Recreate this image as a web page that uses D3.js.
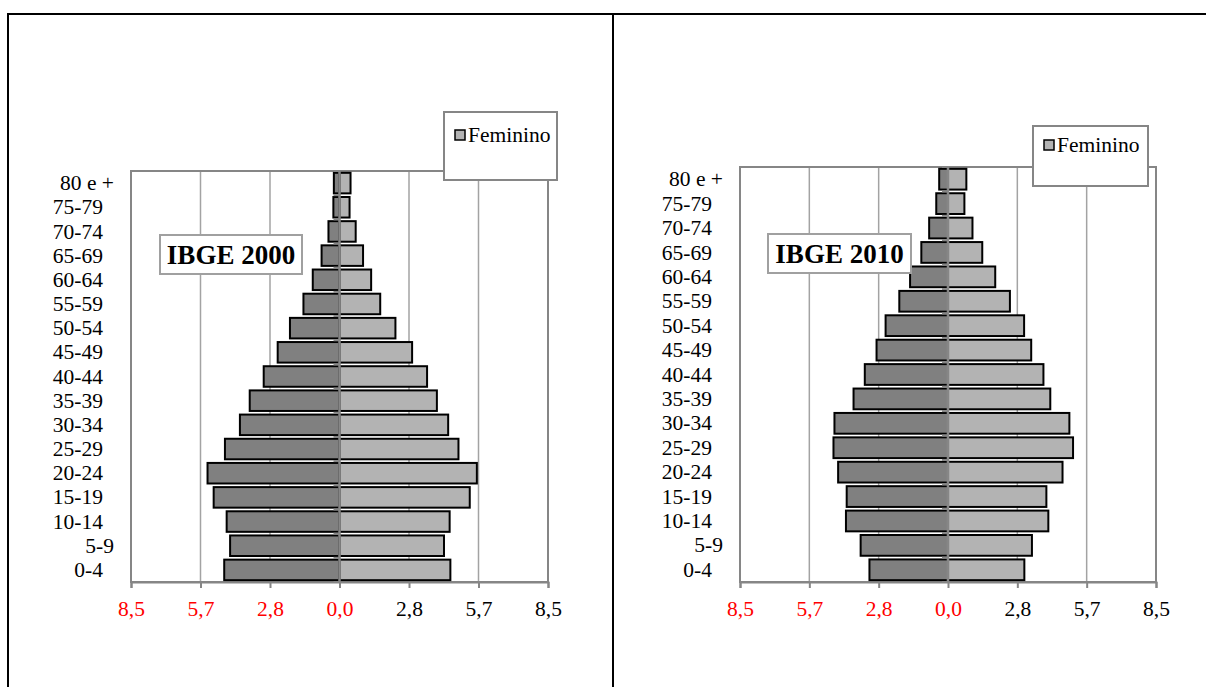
<!DOCTYPE html>
<html>
<head>
<meta charset="utf-8">
<script src="https://cdn.jsdelivr.net/npm/d3@7"></script>
<style>
  body { margin: 0; background: #fff; }
  text { font-family: "Times New Roman", "Liberation Serif", serif; }
</style>
</head>
<body>
<div id="chart"></div>
<script>
// age groups, bottom to top
var ages = ["0-4", "5-9", "10-14", "15-19", "20-24", "25-29", "30-34", "35-39",
            "40-44", "45-49", "50-54", "55-59", "60-64", "65-69", "70-74", "75-79", "80 e +"];

// IBGE 2000 (% of population)
var male2000   = [4.70, 4.46, 4.60, 5.13, 5.38, 4.67, 4.06, 3.66, 3.09, 2.52, 2.02, 1.47, 1.09, 0.73, 0.45, 0.25, 0.23];
var female2000 = [4.52, 4.26, 4.49, 5.31, 5.60, 4.85, 4.43, 3.97, 3.57, 2.96, 2.28, 1.66, 1.29, 0.96, 0.66, 0.41, 0.45];

// IBGE 2010
var male2010   = [3.21, 3.57, 4.17, 4.14, 4.49, 4.68, 4.64, 3.86, 3.40, 2.92, 2.55, 1.99, 1.55, 1.09, 0.77, 0.48, 0.36];
var female2010 = [3.12, 3.43, 4.10, 4.02, 4.68, 5.11, 4.96, 4.18, 3.90, 3.40, 3.11, 2.53, 1.93, 1.40, 1.00, 0.67, 0.75];

var xMax = 8.5;
var tickLabels = ["8,5", "5,7", "2,8", "0,0", "2,8", "5,7", "8,5"];
var legendLabel = "Feminino";

var w = 1206, h = 687;

var svg = d3.select("#chart").append("svg")
    .attr("width", w)
    .attr("height", h);

// table frame
svg.append("line").attr("x1", 8).attr("x2", w).attr("y1", 14).attr("y2", 14)
   .attr("stroke", "#000").attr("stroke-width", 2);
svg.append("line").attr("x1", 8).attr("x2", 8).attr("y1", 13).attr("y2", h)
   .attr("stroke", "#000").attr("stroke-width", 2);
svg.append("line").attr("x1", 613).attr("x2", 613).attr("y1", 13).attr("y2", h)
   .attr("stroke", "#000").attr("stroke-width", 2);

var panels = [
    { title: "IBGE 2000", male: male2000, female: female2000,
      plot: { left: 131, right: 548, top: 171, bottom: 582 },
      legend: { x: 444, y: 112, w: 113, h: 68, base: 142 },
      box: { x: 160, y: 235, w: 142, h: 39 } },
    { title: "IBGE 2010", male: male2010, female: female2010,
      plot: { left: 740, right: 1156, top: 167, bottom: 582 },
      legend: { x: 1033, y: 126, w: 115, h: 60, base: 152 },
      box: { x: 768, y: 234, w: 143, h: 39 } }
];

var borderGray = "#868686";
var gridGray = "#a3a3a3";
var fontSize = "21.5px";

panels.forEach(function(p) {
    var g = svg.append("g");

    var x = d3.scaleLinear()
        .domain([-xMax, xMax])
        .range([p.plot.left, p.plot.right]);

    var y = d3.scaleBand()
        .domain(ages)
        .range([p.plot.bottom, p.plot.top])
        .paddingInner(0.15)
        .paddingOuter(0.075);

    var ticks = d3.range(-3, 4).map(function(i) { return i * xMax / 3; });

    // vertical gridlines
    g.selectAll(".grid")
     .data(ticks.slice(1, -1))
     .enter()
     .append("line")
     .attr("x1", d => x(d)).attr("x2", d => x(d))
     .attr("y1", p.plot.top).attr("y2", p.plot.bottom)
     .attr("stroke", gridGray)
     .attr("stroke-width", 1.5);

    // plot border
    g.append("rect")
     .attr("x", p.plot.left).attr("y", p.plot.top)
     .attr("width", p.plot.right - p.plot.left)
     .attr("height", p.plot.bottom - p.plot.top)
     .attr("fill", "none")
     .attr("stroke", borderGray)
     .attr("stroke-width", 2);

    // bars
    var rows = ages.map(function(a, i) {
        return { age: a, male: p.male[i], female: p.female[i] };
    });

    g.selectAll(".male")
     .data(rows)
     .enter()
     .append("rect")
     .attr("x", d => x(-d.male))
     .attr("y", d => y(d.age))
     .attr("width", d => x(0) - x(-d.male))
     .attr("height", y.bandwidth())
     .attr("fill", "#808080")
     .attr("stroke", "#000")
     .attr("stroke-width", 2);

    g.selectAll(".female")
     .data(rows)
     .enter()
     .append("rect")
     .attr("x", x(0))
     .attr("y", d => y(d.age))
     .attr("width", d => x(d.female) - x(0))
     .attr("height", y.bandwidth())
     .attr("fill", "#b3b3b3")
     .attr("stroke", "#000")
     .attr("stroke-width", 2);

    // category axis at zero, ticks between groups
    var rowH = (p.plot.bottom - p.plot.top) / ages.length;
    g.selectAll(".ytick")
     .data(d3.range(ages.length + 1))
     .enter()
     .append("line")
     .attr("x1", x(0) - 6).attr("x2", x(0))
     .attr("y1", i => p.plot.bottom - i * rowH)
     .attr("y2", i => p.plot.bottom - i * rowH)
     .attr("stroke", borderGray)
     .attr("stroke-width", 2);

    g.append("line")
     .attr("x1", x(0)).attr("x2", x(0))
     .attr("y1", p.plot.top).attr("y2", p.plot.bottom)
     .attr("stroke", borderGray)
     .attr("stroke-width", 2.5);

    // category labels
    var wide = ["80 e +", "5-9"];
    g.selectAll(".ylab")
     .data(ages)
     .enter()
     .append("text")
     .attr("x", d => p.plot.left - (wide.indexOf(d) >= 0 ? 17 : 28))
     .attr("y", d => y(d) + y.bandwidth() / 2)
     .attr("dy", "0.33em")
     .attr("text-anchor", "end")
     .attr("font-size", fontSize)
     .attr("fill", "#000")
     .text(d => d);

    // value axis
    var xAxis = d3.axisBottom(x)
        .tickValues(ticks)
        .tickSize(6)
        .tickPadding(13)
        .tickFormat((d, i) => tickLabels[i]);

    var ax = g.append("g")
        .attr("transform", "translate(0," + p.plot.bottom + ")")
        .call(xAxis);
    ax.select(".domain")
      .attr("stroke", borderGray)
      .attr("stroke-width", 2);
    ax.selectAll(".tick line")
      .attr("stroke", borderGray)
      .attr("stroke-width", 2);
    ax.selectAll(".tick text")
      .attr("font-family", "'Times New Roman', 'Liberation Serif', serif")
      .attr("font-size", fontSize)
      .attr("fill", (d, i) => i < 4 ? "#ff0000" : "#000");

    // title box
    g.append("rect")
     .attr("x", p.box.x).attr("y", p.box.y)
     .attr("width", p.box.w).attr("height", p.box.h)
     .attr("fill", "#fff")
     .attr("stroke", "#a0a0a0")
     .attr("stroke-width", 2);
    g.append("text")
     .attr("x", p.box.x + p.box.w / 2)
     .attr("y", p.box.y + p.box.h / 2)
     .attr("dy", "0.35em")
     .attr("text-anchor", "middle")
     .attr("font-size", "27px")
     .attr("font-weight", "bold")
     .text(p.title);

    // legend
    g.append("rect")
     .attr("x", p.legend.x).attr("y", p.legend.y)
     .attr("width", p.legend.w).attr("height", p.legend.h)
     .attr("fill", "#fff")
     .attr("stroke", borderGray)
     .attr("stroke-width", 2);
    g.append("rect")
     .attr("x", p.legend.x + 11).attr("y", p.legend.base - 12)
     .attr("width", 10).attr("height", 10)
     .attr("fill", "#b3b3b3")
     .attr("stroke", "#000")
     .attr("stroke-width", 1.5);
    g.append("text")
     .attr("x", p.legend.x + 24)
     .attr("y", p.legend.base)
     .attr("font-size", fontSize)
     .text(legendLabel);
});
</script>
</body>
</html>
